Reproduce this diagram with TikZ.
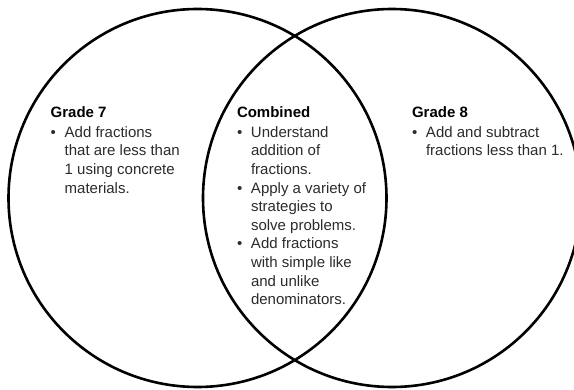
\documentclass[tikz,border=0pt]{standalone}
\usepackage{fontspec}
\setmainfont{Liberation Sans}
\definecolor{bodytext}{HTML}{2B2B2B}

% one bulleted line, and a continuation line indented to the text
\newlength{\bulletind}
\setlength{\bulletind}{14pt}
\newcommand{\bitem}[1]{\hbox{\makebox[\bulletind][l]{\textbullet}#1}}
\newcommand{\bcont}[1]{\hbox{\hspace{\bulletind}#1}}
\newcommand{\heading}[1]{\hbox{\color{black}\bfseries #1}\vskip1.4pt}

\begin{document}
\begin{tikzpicture}[x=1pt,y=1pt,
  ring/.style={draw=black,line width=2.6pt,circle,minimum size=378pt,inner sep=0pt},
  block/.style={anchor=base west,inner sep=0pt,outer sep=0pt,text=bodytext,
    font=\fontsize{15pt}{18.6pt}\selectfont}]
  \useasboundingbox (0,0) rectangle (574,389);
  \clip (0,0) rectangle (574,389);

  % the two sets
  \node[ring] (g7) at (197.5,191) {};
  \node[ring] (g8) at (392,191) {};

  % left set only
  \node[block] (left) at (50.7,271.7) {\vtop{\baselineskip=18.6pt
    \heading{Grade 7}
    \bitem{Add fractions}
    \bcont{that are less than}
    \bcont{1 using concrete}
    \bcont{materials.}}};

  % overlap
  \node[block] (mid) at (237,271.7) {\vtop{\baselineskip=18.6pt
    \heading{Combined}
    \bitem{Understand}
    \bcont{addition of}
    \bcont{fractions.}
    \bitem{Apply a variety of}
    \bcont{strategies to}
    \bcont{solve problems.}
    \bitem{Add fractions}
    \bcont{with simple like}
    \bcont{and unlike}
    \bcont{denominators.}}};

  % right set only
  \node[block] (right) at (412,271.7) {\vtop{\baselineskip=18.6pt
    \heading{Grade 8}
    \bitem{Add and subtract}
    \bcont{fractions less than 1.}}};
\end{tikzpicture}
\end{document}
